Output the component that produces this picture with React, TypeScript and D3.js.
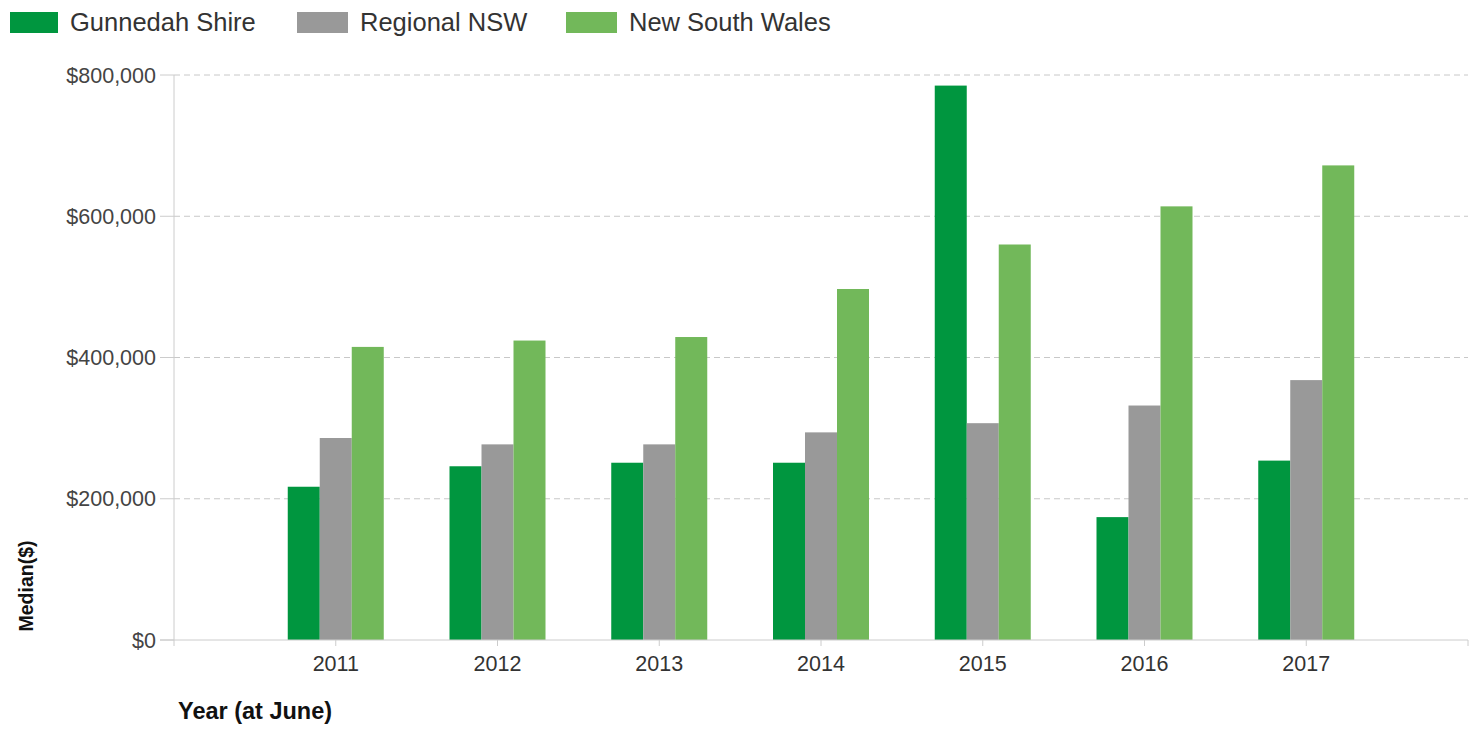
import React from "react";
import * as d3 from "d3";

const years = ["2011", "2012", "2013", "2014", "2015", "2016", "2017"];
const seriesNames = ["Gunnedah Shire", "Regional NSW", "New South Wales"];
const gunnedah = [217000, 246000, 251000, 251000, 785000, 174000, 254000];
const regionalNSW = [286000, 277000, 277000, 294000, 307000, 332000, 368000];
const newSouthWales = [415000, 424000, 429000, 497000, 560000, 614000, 672000];
const yTicks = [0, 200000, 400000, 600000, 800000];

const colors = ["#00963F", "#999999", "#72B85A"];
const seriesValues = [gunnedah, regionalNSW, newSouthWales];

const W = 1477;
const H = 729;
const left = 174;
const right = 1468;
const top = 75;
const bottom = 640;
const barW = 32;

export default function App() {
  const x = d3.scaleLinear().domain([2010, 2018]).range([left, right]);
  const y = d3.scaleLinear().domain([0, 800000]).range([bottom, top]);
  const fmt = (v: number) => "$" + d3.format(",")(v);
  const legendX = [10, 297, 566];
  const legendW = [48, 51, 51];
  const font = "Arial, 'Liberation Sans', sans-serif";

  return (
    <svg
      width={W}
      height={H}
      style={{ position: "absolute", left: 0, top: 0, background: "#fff" }}
      fontFamily={font}
    >
      {/* legend */}
      {seriesNames.map((n, i) => (
        <g key={n}>
          <rect x={legendX[i]} y={12} width={legendW[i]} height={21} fill={colors[i]} />
          <text x={legendX[i] + legendW[i] + 12} y={31} fontSize={25.5} fill="#333">
            {n}
          </text>
        </g>
      ))}

      {/* gridlines */}
      {yTicks.filter((t) => t > 0).map((t) => (
        <line
          key={t}
          x1={left}
          x2={right}
          y1={y(t)}
          y2={y(t)}
          stroke="#c8c8c8"
          strokeDasharray="6,4"
        />
      ))}

      {/* bars */}
      {years.map((yr, i) => {
        const cx = x(+yr);
        return seriesValues.map((vals, s) => (
          <rect
            key={yr + s}
            x={cx - 1.5 * barW + s * barW}
            y={y(vals[i])}
            width={barW}
            height={bottom - y(vals[i])}
            fill={colors[s]}
          />
        ));
      })}

      {/* y axis */}
      <line x1={left} x2={left} y1={top} y2={bottom} stroke="#ccc" />
      {yTicks.map((t) => (
        <g key={t}>
          <line x1={left - 14} x2={left} y1={y(t)} y2={y(t)} stroke="#ccc" />
          <text
            x={left - 18}
            y={y(t) + 7.5}
            textAnchor="end"
            fontSize={21.5}
            fill="#444"
          >
            {fmt(t)}
          </text>
        </g>
      ))}

      {/* x axis */}
      <line x1={left - 14} x2={right} y1={bottom} y2={bottom} stroke="#ccc" />
      {[2010, ...years.map(Number), 2018].map((v) => (
        <line key={v} x1={x(v)} x2={x(v)} y1={bottom} y2={bottom + 6} stroke="#ccc" />
      ))}
      {years.map((yr) => (
        <text key={yr} x={x(+yr)} y={670.5} textAnchor="middle" fontSize={21.5} fill="#333">
          {yr}
        </text>
      ))}

      {/* axis titles */}
      <text x={178} y={718.5} fontSize={23.5} fontWeight="bold" fill="#111">
        Year (at June)
      </text>
      <text
        transform={`translate(33, 586) rotate(-90)`}
        textAnchor="middle"
        fontSize={19.5}
        fontWeight="bold"
        fill="#111"
      >
        Median($)
      </text>
    </svg>
  );
}
